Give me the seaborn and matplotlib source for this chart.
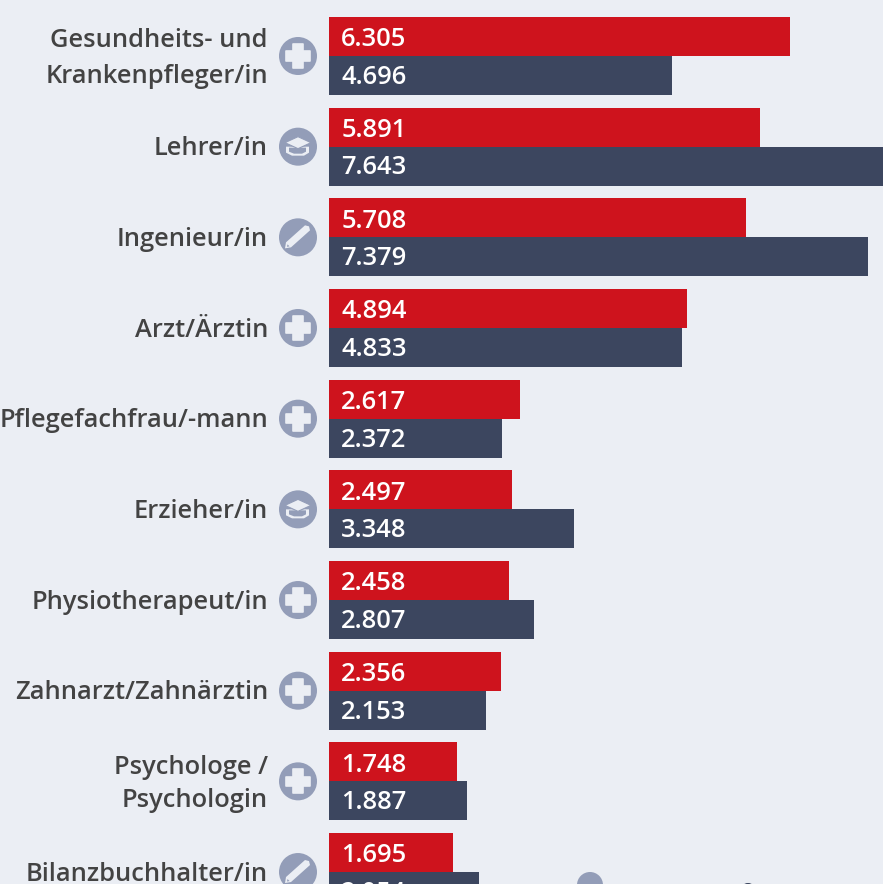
import matplotlib
matplotlib.use("Agg")
import matplotlib.pyplot as plt
from matplotlib.patches import Circle, Polygon, Rectangle, Wedge
from matplotlib.transforms import ScaledTranslation
import pandas as pd
import seaborn as sns

berufe = ["Gesundheits- und\nKrankenpfleger/in", "Lehrer/in", "Ingenieur/in", "Arzt/Ärztin",
          "Pflegefachfrau/-mann", "Erzieher/in", "Physiotherapeut/in", "Zahnarzt/Zahnärztin",
          "Psychologe /\nPsychologin", "Bilanzbuchhalter/in"]
rot = [6305, 5891, 5708, 4894, 2617, 2497, 2458, 2356, 1748, 1695]
blau = [4696, 7643, 7379, 4833, 2372, 3348, 2807, 2153, 1887, 2054]
rot_text = ["6.305", "5.891", "5.708", "4.894", "2.617", "2.497", "2.458", "2.356", "1.748", "1.695"]
blau_text = ["4.696", "7.643", "7.379", "4.833", "2.372", "3.348", "2.807", "2.153", "1.887", "2.054"]
icons = ["plus", "cap", "pen", "plus", "plus", "cap", "plus", "plus", "plus", "pen"]

BG = "#ebeef4"
RED = "#ce131d"
NAVY = "#3c465f"
ICON = "#939db8"

sns.set_theme(style="white")
plt.rcParams["font.family"] = ["Open Sans", "DejaVu Sans"]

df = pd.DataFrame({
    "beruf": berufe * 2,
    "wert": rot + blau,
    "serie": ["rot"] * len(rot) + ["blau"] * len(blau),
})

W, H = 883, 884
fig = plt.figure(figsize=(W / 100, H / 100), dpi=100, facecolor=BG)
ax = fig.add_axes([329 / W, 0, (W - 329) / W, 1], facecolor=BG)

sns.barplot(data=df, y="beruf", x="wert", hue="serie", order=berufe, hue_order=["rot", "blau"],
            palette={"rot": RED, "blau": NAVY}, orient="h", width=0.86, gap=0, legend=False,
            saturation=1, ax=ax, linewidth=0)

step = 90.67
ax.set_ylim((H - 56) / step, -56 / step)
ax.set_xlim(0, (W - 329) / 0.0731)
ax.set_xlabel("")
ax.set_ylabel("")
ax.set_xticks([])
sns.despine(ax=ax, left=True, bottom=True)
ax.tick_params(axis="y", length=0, pad=61 * 0.72)
for lab in ax.get_yticklabels():
    lab.set_fontsize(18.4)
    lab.set_fontweight(600)
    lab.set_color("#434343")
    if "\n" in lab.get_text():
        lab.set_verticalalignment("center")
        lab.set_linespacing(1.6 if lab.get_text().startswith("Gesund") else 1.42)
        shift = -2.5
    else:
        shift = 1
    lab.set_transform(lab.get_transform() + ScaledTranslation(0, shift / 100, fig.dpi_scale_trans))

# Werte stehen rechtsbuendig an gleicher Stelle
for i in range(len(berufe)):
    for txt, dy in ((rot_text[i], -0.214), (blau_text[i], 0.2)):
        ax.annotate(txt, xy=(0, i + dy), xytext=(77.5 * 0.72, -2.3), textcoords="offset points",
                    ha="right", va="center", color="white", fontsize=18.4, fontweight=600,
                    annotation_clip=False)

# Piktogramme in Pixelkoordinaten
ov = fig.add_axes([0, 0, 1, 1], facecolor="none")
ov.set_xlim(0, W)
ov.set_ylim(H, 0)
ov.axis("off")


def draw_icon(kind, cx, cy):
    ov.add_patch(Circle((cx, cy), 19, fc=ICON, ec="none"))
    if kind == "plus":
        ov.add_patch(Rectangle((cx - 12, cy - 4.7), 24, 9.4, fc=BG, ec=BG, lw=1.2, joinstyle="round"))
        ov.add_patch(Rectangle((cx - 4.7, cy - 12), 9.4, 24, fc=BG, ec=BG, lw=1.2, joinstyle="round"))
    elif kind == "cap":
        ov.add_patch(Polygon([(cx - 12, cy), (cx - 12, cy + 6), (cx - 6, cy + 9), (cx + 6, cy + 9),
                              (cx + 11, cy + 6), (cx + 11, cy)], fc=BG, ec="none"))
        ov.add_patch(Polygon([(cx - 9, cy + 1), (cx - 9, cy + 5), (cx - 4, cy + 7), (cx + 4, cy + 7),
                              (cx + 8, cy + 5), (cx + 8, cy + 1)], fc=ICON, ec="none"))
        ov.add_patch(Polygon([(cx - 13, cy - 4), (cx, cy - 10), (cx + 13, cy - 4), (cx, cy + 2)],
                             fc=BG, ec=ICON, lw=0.8))
    else:
        ov.add_patch(Polygon([(cx + 7, cy - 12), (cx + 11, cy - 11), (cx + 12, cy - 7), (cx - 7, cy + 10),
                              (cx - 13, cy + 11), (cx - 12, cy + 5)], fc=BG, ec="none"))
        ov.add_patch(Polygon([(cx - 10.5, cy + 7), (cx - 11, cy + 9.5), (cx - 8.5, cy + 9)], fc=ICON, ec="none"))


for i, kind in enumerate(icons):
    draw_icon(kind, 298, 56 + i * step)

# angeschnittene Elemente am unteren Rand
ov.add_patch(Circle((590, 885), 13, fc=ICON, ec="none"))
ov.add_patch(Wedge((748, 891), 8, 180, 360, fc=NAVY, ec="none"))
ov.add_patch(Wedge((833, 891), 7, 180, 360, fc=NAVY, ec="none"))

fig.savefig("out.png", dpi=100, facecolor=BG)
